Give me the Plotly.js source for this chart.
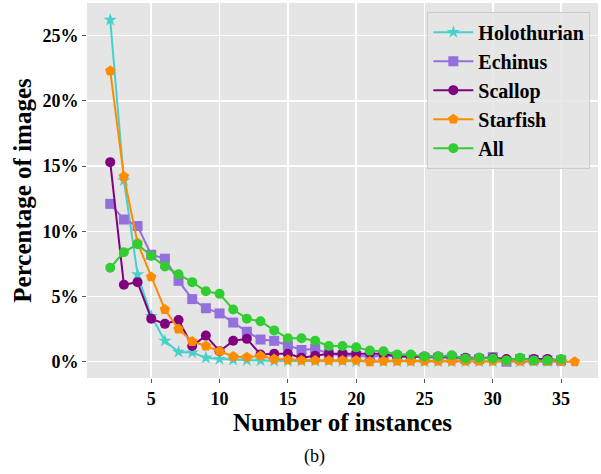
<!DOCTYPE html>
<html><head><meta charset="utf-8">
<script src="https://cdn.plot.ly/plotly-3.0.1.min.js"></script>
<style>html,body{margin:0;padding:0;background:#fff}#chart{width:601px;height:474px}</style>
</head><body><div id="chart"></div>
<script>
const xs = [2,3,4,5,6,7,8,9,10,11,12,13,14,15,16,17,18,19,20,21,22,23,24,25,26,27,28,29,30,31,32,33,34,35];
const xsStar = [2,3,4,5,6,7,8,9,10,11,12,13,14,15,16,17,18,19,20,21,22,23,24,25,26,27,28,29,30,31,32,33,34,35,36];
const holothurian = [26.2,13.9,6.7,3.5,1.6,0.75,0.7,0.3,0.2,0.15,0.1,0.08,0.05,0.05,0.05,0.05,0.05,0.05,0.0,0.05,0.0,0.0,0.0,0.0,0.0,0.0,0.0,0.0,0.0,0.0,0.0,0.0,0.0,0.0];
const echinus = [12.1,10.9,10.4,8.2,7.9,6.2,4.8,4.1,3.7,3.0,2.3,1.7,1.6,1.25,0.9,1.0,0.6,0.5,0.45,0.4,0.45,0.4,0.35,0.3,0.3,0.3,0.2,0.2,0.35,0.0,0.2,0.15,0.1,0.1];
const scallop = [15.3,5.9,6.1,3.3,2.9,3.2,1.2,2.0,0.8,1.6,1.75,0.55,0.6,0.6,0.3,0.45,0.6,0.6,0.6,0.65,0.6,0.4,0.4,0.4,0.4,0.4,0.3,0.3,0.3,0.2,0.2,0.2,0.2,0.1];
const starfish = [22.3,14.2,9.1,6.5,4.0,2.5,1.55,1.2,0.8,0.4,0.35,0.45,0.2,0.15,0.1,0.1,0.1,0.1,0.1,0.0,0.05,0.05,0.05,0.05,0.05,0.05,0.05,0.05,0.05,0.05,0.05,0.05,0.05,0.05,0.0];
const allImgs = [7.2,8.4,9.0,8.1,7.3,6.7,6.1,5.4,5.2,4.0,3.3,3.1,2.4,1.8,1.8,1.6,1.2,1.2,1.1,0.85,0.8,0.55,0.55,0.4,0.4,0.5,0.25,0.3,0.25,0.1,0.3,0.1,0.1,0.2];
const names = ['Holothurian','Echinus','Scallop','Starfish','All'];
const colors = ['#48D1CC','#9370DB','#800080','#FF8C00','#32CD32'];
const symbols = ['star','square','circle','pentagon','circle'];
const sizes = [10,10,10,11,10];
const series = [holothurian, echinus, scallop, starfish, allImgs];
const xsets = [xs, xs, xs, xsStar, xs];
const yTicks = [0,5,10,15,20,25];
const xTicks = [5,10,15,20,25,30,35];

const traces = series.map((ys,i)=>({
  x: xsets[i], y: ys, name: names[i], legendgroup:'g'+i, type:'scatter', mode:'lines+markers',
  line:{color:colors[i], width:2},
  marker:{color:colors[i], symbol:symbols[i], size:sizes[i], line:{width:0}}
}));

const FAM = 'Liberation Serif';
const layout = {
  width:601, height:474,
  margin:{l:87,r:3,t:3,b:96},
  paper_bgcolor:'#fff', plot_bgcolor:'#E5E5E5',
  font: {family:FAM, color:'#000'},
  showlegend:true,
  legend:{x:0.985,y:0.977,xanchor:'right',yanchor:'top',bgcolor:'rgba(229,229,229,0.85)',bordercolor:'#CCCCCC',borderwidth:1,
    font:{family:FAM,size:20,color:'#000',weight:'bold'}, traceorder:'grouped', tracegroupgap:0, itemwidth:40},
  xaxis:{range:[0.3,37.7], tickvals:xTicks, ticktext:xTicks.map(String), showgrid:true, gridcolor:'#FFFFFF', gridwidth:1.5,
    zeroline:false, showline:false, ticks:'outside', ticklen:4, tickcolor:'#555', tickwidth:1,
    tickfont:{family:FAM,size:18,color:'#000',weight:'bold'},
    title:{text:'Number of instances', font:{family:FAM,size:25,color:'#000',weight:'bold'}, standoff:3}},
  yaxis:{range:[-1.25,27.5], tickvals:yTicks, ticktext:yTicks.map(v=>v+'%'), showgrid:true, gridcolor:'#FFFFFF', gridwidth:1.5,
    zeroline:false, showline:false, ticks:'outside', ticklen:4, tickcolor:'#555', tickwidth:1,
    tickfont:{family:FAM,size:18,color:'#000',weight:'bold'},
    title:{text:'Percentage of images', font:{family:FAM,size:25,color:'#000',weight:'bold'}, standoff:3}},
  annotations:[{text:'(b)', xref:'paper', yref:'paper', x:0.445, y:-0.21, xanchor:'center', yanchor:'middle', showarrow:false,
    font:{family:FAM,size:18,color:'#000'}}]
};
Plotly.newPlot('chart', traces, layout, {displayModeBar:false, staticPlot:true});
</script></body></html>
